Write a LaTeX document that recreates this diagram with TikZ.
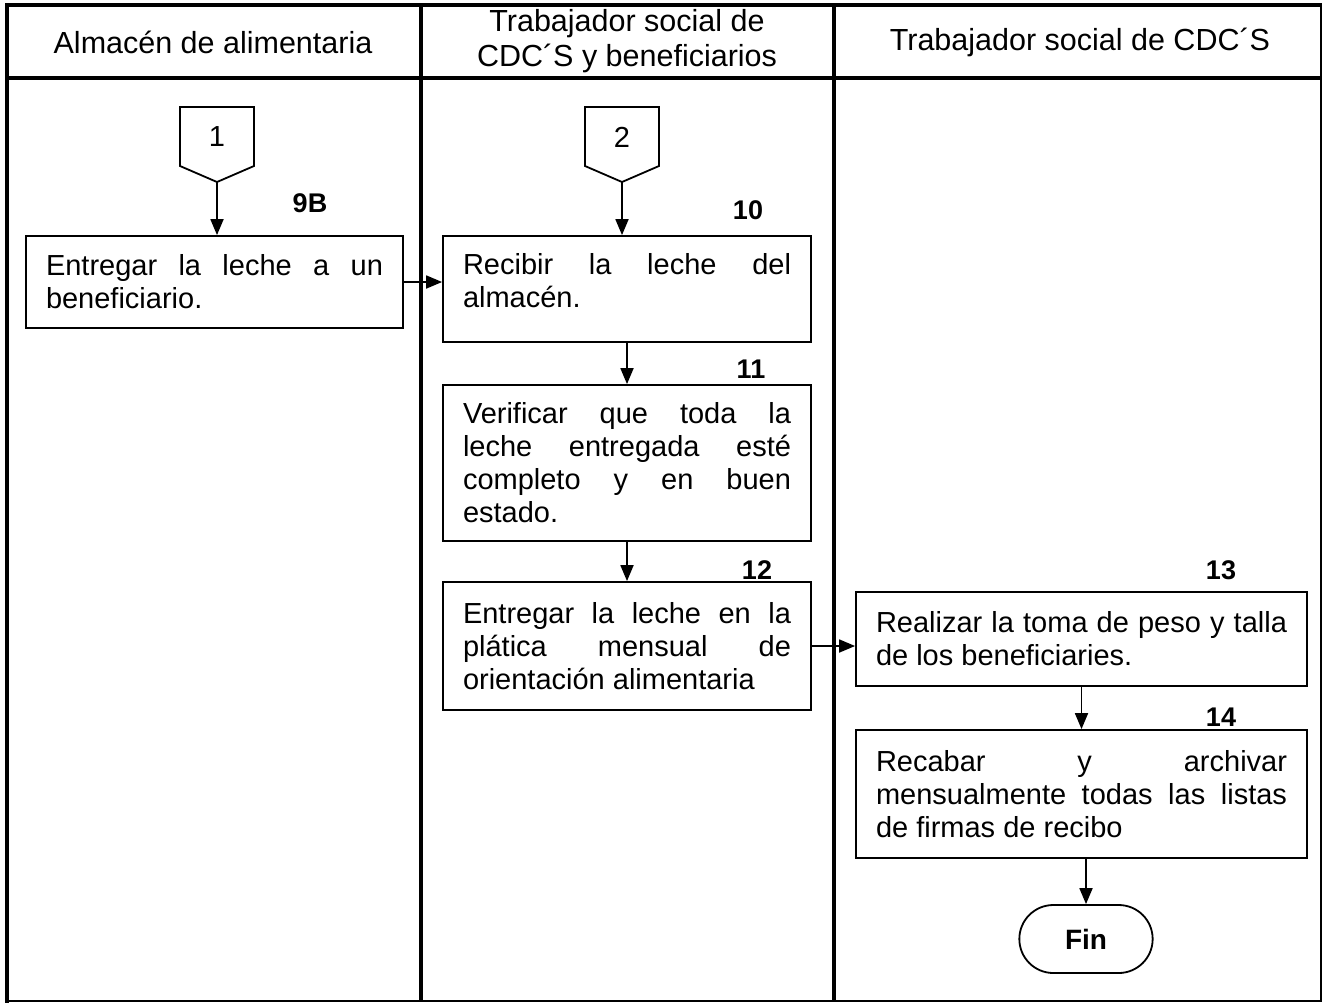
\documentclass[tikz,border=0pt]{standalone}
\usepackage{fontspec}
\setmainfont{Liberation Sans}[WordSpace={1,3,0}]
\usetikzlibrary{arrows.meta,shapes.misc}
\begin{document}
\begin{tikzpicture}[x=1pt,y=-1pt,
  frame/.style={line width=4pt},
  thinframe/.style={line width=2.5pt},
  stepbox/.style={draw,line width=1.8pt,rectangle,align=justify,inner xsep=20pt,
    execute at begin node={\hyphenpenalty=10000\exhyphenpenalty=10000\tolerance=10000\hbadness=10000},
    font=\fontsize{29}{33}\selectfont},
  head/.style={align=center,font=\fontsize{30.5}{35}\selectfont},
  num/.style={font=\fontsize{27}{30}\selectfont\bfseries},
  conn/.style={font=\fontsize{29}{30}\selectfont},
  arr/.style={line width=1.8pt,-{Triangle[length=16pt,width=13pt]}},
  fin/.style={draw,line width=1.8pt,rounded rectangle,minimum width=140pt,minimum height=68pt,
    font=\fontsize{28}{30}\selectfont\bfseries}]
\useasboundingbox (0,0) rectangle (1325,1005);
\fill[white] (0,0) rectangle (1325,1005);
% frame
\draw[frame] (5,5) -- (1322,5);
\draw[frame] (7,3) -- (7,1003);
\draw[thinframe] (1321,3) -- (1321,1002);
\draw[thinframe] (5,1001) -- (1322,1001);
\draw[frame] (5,78) -- (1322,78);
\draw[frame] (421,3) -- (421,1002);
\draw[frame] (834,3) -- (834,1002);
% headers
\node[head] (h1) at (213,42) {Almacén de alimentaria};
\node[head] (h2) at (627,41.5) {Trabajador social de\\CDC´S y beneficiarios};
\node[head] (h3) at (1080,42) {Trabajador social de CDC´S};
% off-page connectors
\node[conn] (c1) at (217,137) {1};
\draw[line width=1.8pt] (180,107) -- (254,107) -- (254,166) -- (217,182) -- (180,166) -- cycle;
\coordinate (c1p) at (217,182);
\node[conn] (c2) at (622,137) {2};
\draw[line width=1.8pt] (585,107) -- (659,107) -- (659,166) -- (622,182) -- (585,166) -- cycle;
\coordinate (c2p) at (622,182);
% boxes
\node[stepbox,text width=337pt,minimum height=92pt] (b1) at (214.5,282)
  {Entregar la leche a un\linebreak beneficiario.};
\node[stepbox,text width=328pt,minimum height=106pt,text depth=50pt] (b2) at (627,289)
  {Recibir la leche del\linebreak almacén.};
\node[stepbox,text width=328pt,minimum height=156pt] (b3) at (627,463)
  {Verificar que toda la\linebreak leche entregada esté\linebreak completo y en buen\linebreak estado.};
\node[stepbox,text width=328pt,minimum height=128pt] (b4) at (627,646)
  {Entregar la leche en la\linebreak plática mensual de\linebreak orientación alimentaria};
\node[stepbox,text width=411pt,minimum height=94pt] (b5) at (1081.5,639)
  {Realizar la toma de peso y talla\linebreak de los beneficiaries.};
\node[stepbox,text width=411pt,minimum height=128pt] (b6) at (1081.5,794)
  {Recabar y archivar\linebreak mensualmente todas las listas\linebreak de firmas de recibo};
\node[fin] (f) at (1086,939) {Fin};
% numbers
\node[num] (n9) at (310,203) {9B};
\node[num] (n10) at (748,210) {10};
\node[num] (n11) at (751,369) {11};
\node[num] (n12) at (757,570) {12};
\node[num] (n13) at (1221,570) {13};
\node[num] (n14) at (1221,717) {14};
% connectors
\draw[arr] (c1p) -- (c1p |- b1.north);
\draw[arr] (c2p) -- (c2p |- b2.north);
\draw[arr] (b1.east) -- (b1.east -| b2.west);
\draw[arr] (b2.south) -- (b3.north);
\draw[arr] (b3.south) -- (b4.north);
\draw[arr] (b4.east) -- (b4.east -| b5.west);
\draw[arr] (b5.south) -- (b6.north);
\draw[arr] (b6.south -| f.north) -- (f.north);
\end{tikzpicture}
\end{document}
